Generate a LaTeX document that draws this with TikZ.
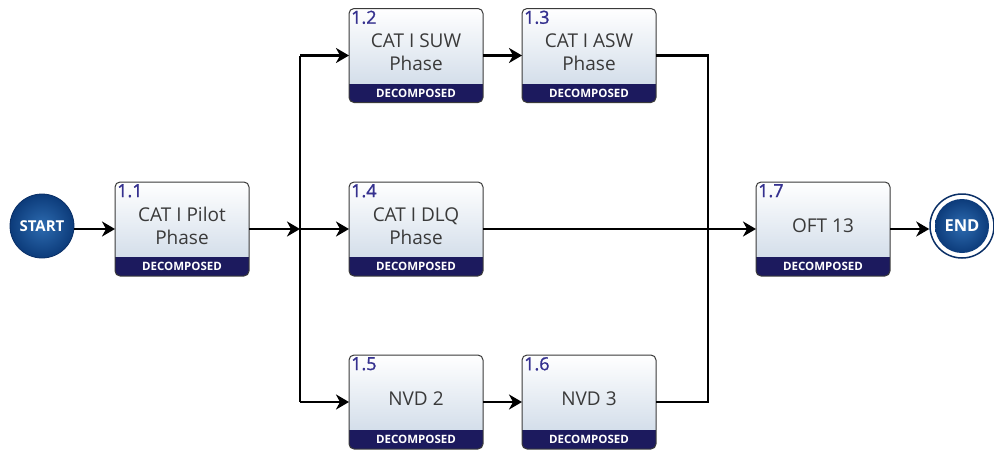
\documentclass[tikz,border=0pt]{standalone}
\usepackage{fontspec}
\setmainfont{Open Sans}
\newfontfamily\numfont[FakeBold=1.2]{Open Sans}
\usetikzlibrary{arrows.meta,shadings}
\definecolor{boxline}{HTML}{3A3A3A}
\definecolor{boxbot}{HTML}{C9D6E5}
\definecolor{bandcol}{HTML}{1C1A5E}
\definecolor{numcol}{HTML}{35318F}
\definecolor{txtgray}{HTML}{3A3A3A}
\definecolor{circin}{HTML}{2D6BB0}
\definecolor{circout}{HTML}{0C3B7A}
\definecolor{circline}{HTML}{0A2F66}
\tikzset{
  taskshape/.style={rounded corners=5pt, minimum width=134pt, minimum height=94pt,
    top color=white, bottom color=boxbot, inner sep=0pt, outer sep=0pt},
  tasktext/.style={font=\fontsize{19}{23}\selectfont, text=txtgray, align=center},
  numlabel/.style={font=\numfont\fontsize{18}{18}\selectfont, text=numcol, anchor=north west, inner sep=2pt},
  bandtext/.style={font=\bfseries\fontsize{11.5}{12}\selectfont, text=white},
  wire/.style={line width=2.5pt, black},
  conn/.style={wire, -{Stealth[length=13pt,width=15pt,inset=4pt]}},
  circnode/.style={circle, inner sep=0pt, inner color=circin, outer color=circout,
    text=white},
}
\newcommand\taskbox[5]{%
  \node[taskshape] (#1) at (#2,#3) {};
  \begin{scope}
    \clip[rounded corners=5pt] (#1.south west) rectangle (#1.north east);
    \fill[bandcol] (#1.south west) rectangle ([yshift=19pt]#1.south east);
  \end{scope}
  \draw[boxline, line width=1pt, rounded corners=5pt] (#1.south west) rectangle (#1.north east);
  \node[numlabel] at (#1.north west) {#4};
  \node[tasktext] at ([yshift=3pt]#1.center) {#5};
  \node[bandtext] at ([yshift=9.5pt]#1.south) {DECOMPOSED};
}
\begin{document}
\begin{tikzpicture}[x=1pt,y=-1pt]
\useasboundingbox (0,0) rectangle (994,450);
% start / end
\node[circnode, minimum size=64pt, draw=circline, line width=0.8pt,
  font=\bfseries\fontsize{15}{15}\selectfont] (start) at (42,226) {START};
\node[circle, minimum size=64pt, draw=circline, line width=1.5pt, fill=white, inner sep=0pt] (end) at (962,226) {};
\node[circnode, minimum size=54pt, font=\bfseries\fontsize{16.5}{16.5}\selectfont] (endin) at (end) {END};
% tasks
\taskbox{b11}{182}{229}{1.1}{CAT I Pilot\\Phase}
\taskbox{b12}{416}{55.5}{1.2}{CAT I SUW\\Phase}
\taskbox{b13}{589}{55.5}{1.3}{CAT I ASW\\Phase}
\taskbox{b14}{416}{229}{1.4}{CAT I DLQ\\Phase}
\taskbox{b15}{416}{402}{1.5}{NVD 2}
\taskbox{b16}{589}{402}{1.6}{NVD 3}
\taskbox{b17}{823}{229}{1.7}{OFT 13}
% junctions
\coordinate (j1) at (300,229);
\coordinate (j1t) at (300,55.5);
\coordinate (j1b) at (300,402);
\coordinate (j2t) at (708,55.5);
\coordinate (j2b) at (708,402);
% connectors
\draw[conn] (start.east |- b11.west) -- (b11.west);
\draw[conn] (b11.east) -- (j1);
\draw[wire] (j1t) -- (j1b);
\draw[conn] (j1t) -- (b12.west);
\draw[conn] (j1) -- (b14.west);
\draw[conn] (j1b) -- (b15.west);
\draw[conn] (b12.east) -- (b13.west);
\draw[conn] (b15.east) -- (b16.west);
\draw[wire] (b13.east) -- (j2t) -- (j2b) -- (b16.east);
\draw[conn] (b14.east) -- (b17.west);
\draw[conn] (b17.east) -- (end.west |- b17.east);
\end{tikzpicture}
\end{document}
